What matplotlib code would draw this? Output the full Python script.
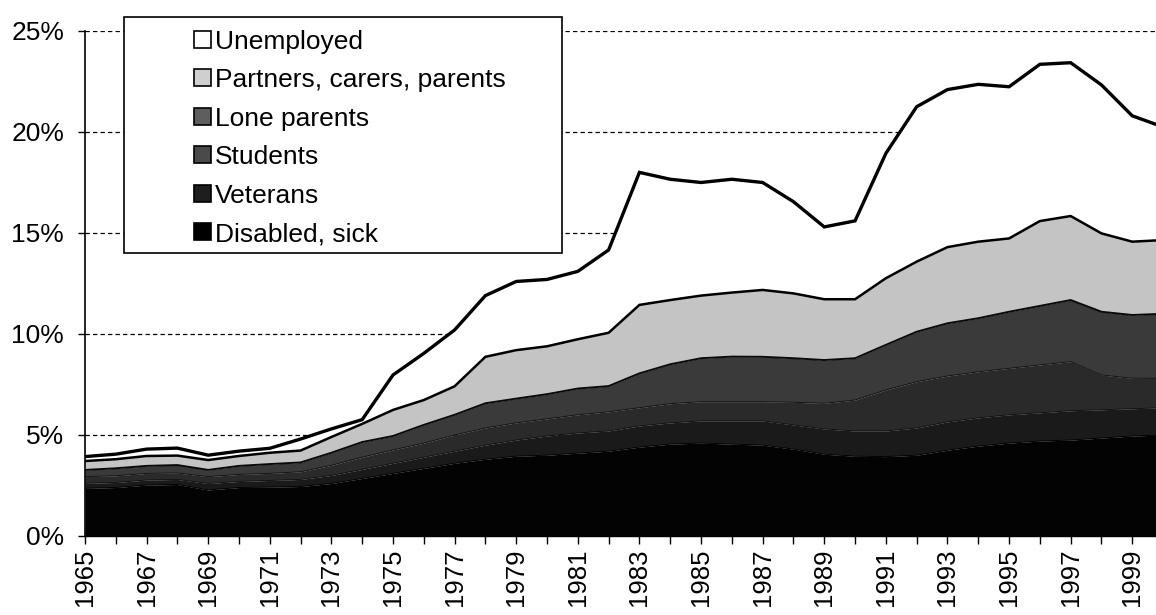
import numpy as np
import matplotlib
matplotlib.use("Agg")
from matplotlib import pyplot as plt
from matplotlib.patches import Patch, Rectangle

plt.rcParams['font.family'] = ['Liberation Sans', 'DejaVu Sans']

# share of working-age population on income support, %
years = list(range(1965, 2001))

disabled = [2.36, 2.40, 2.52, 2.55, 2.28, 2.40, 2.42, 2.45, 2.60, 2.85,
            3.10, 3.35, 3.60, 3.80, 3.95, 4.00, 4.10, 4.20, 4.40, 4.55,
            4.60, 4.55, 4.50, 4.30, 4.05, 3.95, 3.93, 4.00, 4.25, 4.45,
            4.60, 4.70, 4.75, 4.85, 4.95, 5.00]
veterans = [0.25, 0.25, 0.25, 0.25, 0.32, 0.30, 0.33, 0.35, 0.40, 0.45,
            0.50, 0.55, 0.60, 0.70, 0.80, 0.95, 1.00, 1.00, 1.05, 1.05,
            1.10, 1.15, 1.20, 1.20, 1.25, 1.25, 1.27, 1.35, 1.40, 1.40,
            1.40, 1.40, 1.45, 1.40, 1.35, 1.35]
students = [0.33, 0.33, 0.33, 0.32, 0.34, 0.35, 0.35, 0.38, 0.50, 0.60,
            0.66, 0.70, 0.80, 0.85, 0.85, 0.85, 0.90, 0.95, 0.90, 0.95,
            0.95, 0.95, 0.95, 1.12, 1.27, 1.53, 2.03, 2.29, 2.27, 2.28,
            2.30, 2.37, 2.43, 1.72, 1.51, 1.45]
lone_parents = [0.33, 0.37, 0.37, 0.39, 0.33, 0.42, 0.46, 0.46, 0.62, 0.75,
                0.69, 0.90, 1.00, 1.22, 1.20, 1.22, 1.30, 1.27, 1.70, 1.95,
                2.15, 2.23, 2.22, 2.18, 2.14, 2.07, 2.23, 2.47, 2.61, 2.65,
                2.80, 2.92, 3.05, 3.13, 3.13, 3.20]
partners = [0.44, 0.45, 0.49, 0.47, 0.49, 0.49, 0.56, 0.59, 0.78, 0.90,
            1.29, 1.23, 1.41, 2.30, 2.40, 2.37, 2.44, 2.64, 3.39, 3.18,
            3.10, 3.17, 3.31, 3.21, 3.01, 2.92, 3.30, 3.47, 3.77, 3.79,
            3.63, 4.20, 4.16, 3.88, 3.63, 3.65]
unemployed = [0.22, 0.25, 0.34, 0.37, 0.24, 0.24, 0.22, 0.57, 0.40, 0.21,
              1.73, 2.31, 2.79, 3.03, 3.40, 3.31, 3.36, 4.10, 6.56, 5.98,
              5.60, 5.61, 5.32, 4.54, 3.58, 3.88, 6.18, 7.67, 7.80, 7.79,
              7.51, 7.76, 7.59, 7.35, 6.23, 5.60]

labels = ["Disabled, sick", "Veterans", "Students", "Lone parents",
          "Partners, carers, parents", "Unemployed"]
series = [disabled, veterans, students, lone_parents, partners, unemployed]
fills = ["#030303", "#1a1a1a", "#2a2a2a", "#3a3a3a", "#c4c4c4", "#ffffff"]
legend_fills = ["#000000", "#1e1e1e", "#4a4a4a", "#5e5e5e", "#cfcfcf", "#ffffff"]
edge_w = [0.6, 0.6, 0.7, 1.4, 1.8, 2.4]
edge_c = ["#000000", "#111111", "#151515", "#0a0a0a", "#000000", "#000000"]

fig = plt.figure(figsize=(11.56, 6.15), dpi=100)
ax = fig.add_axes([0.0735, 0.1285, 0.9265, 0.8211])

# stacked areas, bottom layer first
tops = np.cumsum(np.array(series), axis=0)
base = np.zeros(len(years))
for i in range(len(series)):
    ax.fill_between(years, base, tops[i], color=fills[i], lw=0, zorder=2 + i)
    ax.plot(years, tops[i], color=edge_c[i], lw=edge_w[i], zorder=10 + i,
            solid_joinstyle="miter")
    base = tops[i]

ax.set_xlim(1965, 1999.77)
ax.set_ylim(0, 25)

# dashed gridlines behind the areas
for g in [5, 10, 15, 20, 25]:
    ax.axhline(g, color="black", lw=0.9, ls=(0, (3.5, 2.5)), zorder=1)

ax.set_yticks([0, 5, 10, 15, 20, 25])
ax.set_yticklabels(["0%", "5%", "10%", "15%", "20%", "25%"])
ax.set_xticks(years[0:35:2])
ax.set_xticks(years[1:35:2], minor=True)
ax.set_xticklabels([str(y) for y in years[0:35:2]], rotation=90)

ax.tick_params(axis="y", labelsize=19)
ax.tick_params(axis="x", labelsize=18.5)
ax.tick_params(axis="x", which="both", direction="out", length=6, pad=3,
               width=1)
ax.tick_params(axis="y", direction="out", length=5, pad=10, width=1)

for s in ["top", "right"]:
    ax.spines[s].set_visible(False)
ax.spines["left"].set_linewidth(1.2)
ax.spines["bottom"].set_linewidth(1.0)
ax.spines["left"].set_zorder(30)

# legend in a wide box that sits over the top of the plot
fig.add_artist(Rectangle((0.1073, 0.5886), 0.3789, 0.3837,
                         transform=fig.transFigure, facecolor="white",
                         edgecolor="black", lw=1.2, zorder=4))
handles = [Patch(facecolor=legend_fills[i], edgecolor="black", lw=1.2)
           for i in range(len(labels))]
fig.legend(handles[::-1], labels[::-1], loc="upper left",
           bbox_to_anchor=(0.152, 0.982), frameon=False, fontsize=19,
           handlelength=0.62, handleheight=0.62, handletextpad=0.15,
           labelspacing=0.55, borderpad=0.2)

plt.savefig("out.png", dpi=100)
